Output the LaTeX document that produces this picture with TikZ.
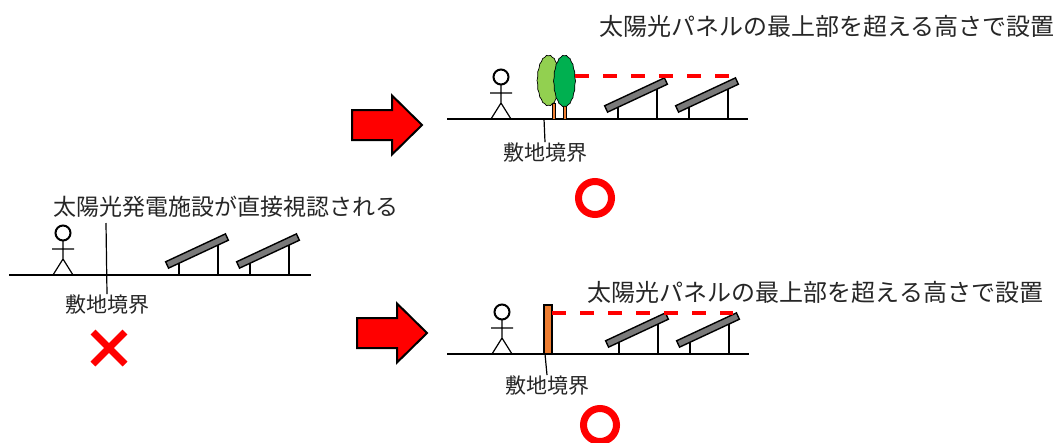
\documentclass[tikz,border=0pt]{standalone}
\usepackage{fontspec}
\setmainfont{Noto Sans CJK JP}
\definecolor{markred}{HTML}{FF0000}
\definecolor{leaflight}{HTML}{92D050}
\definecolor{leafdark}{HTML}{00B050}
\definecolor{wood}{HTML}{ED7D31}
\definecolor{panelgray}{HTML}{7A7A7A}
\tikzset{
  ground/.style={line width=1.3pt},
  figure/.style={line width=1.2pt},
  panel/.style={draw=black, line width=1.4pt, fill=panelgray, minimum width=66pt, minimum height=7pt, inner sep=0pt, rotate=25},
  heightline/.style={markred, line width=3.5pt, dash pattern=on 14pt off 14pt},
  bigtext/.style={font=\fontsize{24pt}{28pt}\selectfont, text=black!85, inner sep=0pt},
  lbl/.style={font=\fontsize{21pt}{25pt}\selectfont, text=black!85, inner sep=1pt},
  person/.pic={
    \draw[line width=2pt] (0,-42) circle (7.5);
    \draw[figure] (0,-34.5) -- (0,-16) (-11,-26) -- (11,-26) (-10,0) -- (0,-16) -- (10,0);
  },
  panels/.pic={
    \draw[figure] (12,0) -- (12,-16) (51,0) -- (51,-34) (83,0) -- (83,-16) (122,0) -- (122,-34);
    \node[panel] (-a) at (30,-24) {};
    \node[panel] (-b) at (101,-24) {};
  },
  bigarrow/.pic={
    \draw[fill=markred, line width=2pt, line join=miter] (-70,-15) -- (-30,-15) -- (-30,-29.5) -- (0,0) -- (-30,29.5) -- (-30,15) -- (-70,15) -- cycle;
  }
}
\begin{document}
\begin{tikzpicture}[x=1pt, y=-1pt]
\useasboundingbox (0,0) rectangle (1059,442);

% left: seen directly
\node[bigtext, font=\fontsize{23pt}{27pt}\selectfont] (seen) at (225.5,207) {太陽光発電施設が直接視認される};
\draw[ground] (9,275) -- (311,275);
\pic at (63,275) {person};
\pic at (167,275) {panels};
\coordinate (bdL) at (106,223);
\node[lbl] (lblL) at (107,305) {敷地境界};
\draw[figure] (bdL) -- (lblL.north);
\draw[markred, line width=7pt] (93,332) -- (125,364) (93,364) -- (125,332);

% top right: trees
\pic at (422,125) {bigarrow};
\node[bigtext] (topnote) at (827,26) {太陽光パネルの最上部を超える高さで設置};
\draw[ground] (447,119) -- (748,119);
\pic at (501,119) {person};
\pic at (606,119) {panels};
\draw[fill=wood, line width=0.6pt] (552.5,103) rectangle (555.5,119);
\draw[fill=wood, line width=0.6pt] (563,103) rectangle (566,119);
\draw[fill=leaflight, line width=0.7pt] plot[smooth cycle, domain=0:356, samples=90, variable=\t]
  ({548.5+11.5*cos(\t)*(1-0.05*abs(sin(9*\t)))}, {80.5+25.5*sin(\t)*(1-0.03*abs(sin(9*\t)))});
\draw[fill=leafdark, line width=0.7pt] plot[smooth cycle, domain=0:356, samples=90, variable=\t]
  ({564.5+11*cos(\t)*(1-0.05*abs(sin(9*\t)))}, {81+26*sin(\t)*(1-0.03*abs(sin(9*\t)))});
\draw[heightline] (575,76) -- (733,76);
\coordinate (bdT) at (544,119);
\node[lbl] (lblT) at (545,153) {敷地境界};
\draw[figure] (bdT) -- (lblT.north);
\draw[markred, line width=7pt] (595,198) circle (16.5);

% bottom right: fence
\pic at (427,333) {bigarrow};
\node[bigtext] (botnote) at (815.5,292.5) {太陽光パネルの最上部を超える高さで設置};
\draw[ground] (447,354) -- (749,354);
\pic at (502,354) {person};
\pic at (607,354) {panels};
\node[draw, fill=wood, line width=1.3pt, minimum width=8pt, minimum height=49pt, inner sep=0pt] (fence) at (548,329.5) {};
\draw[heightline] (552,313) -- (733,313);
\coordinate (bdB) at (545,354);
\node[lbl] (lblB) at (547,386) {敷地境界};
\draw[figure] (bdB) -- (lblB.north);
\draw[markred, line width=7pt] (600,425) circle (16.5);
\end{tikzpicture}
\end{document}
